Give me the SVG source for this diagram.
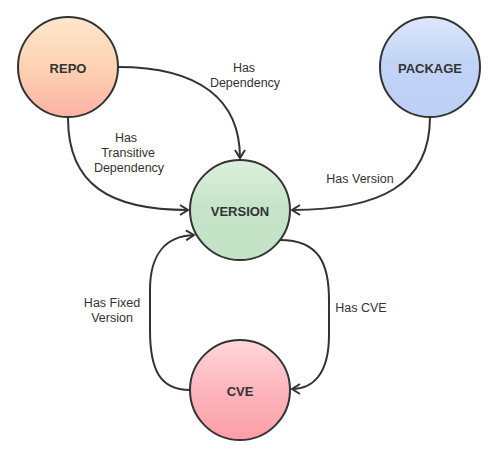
<svg xmlns="http://www.w3.org/2000/svg" width="500" height="460" viewBox="0 0 500 460">
<style>
.node{stroke:#333;stroke-width:2}
.nl{font-family:"Liberation Sans",Arial,sans-serif;font-weight:bold;font-size:13px;fill:#333;text-anchor:middle}
.el{font-family:"Liberation Sans",Arial,sans-serif;font-size:12.5px;fill:#333;text-anchor:middle}
.edge{fill:none;stroke:#333;stroke-width:2;marker-end:url(#arr)}
</style>
<defs>
<marker id="arr" markerWidth="12" markerHeight="12" refX="10" refY="6" orient="auto" markerUnits="userSpaceOnUse">
<path d="M2,1 L10,6 L2,11" fill="none" stroke="#333" stroke-width="2" stroke-linejoin="miter"/>
</marker>
<linearGradient id="gRepo" x1="0" y1="0" x2="0" y2="1"><stop offset="0" stop-color="#ffe6cc"/><stop offset="0.5" stop-color="#fdd3b3"/><stop offset="1" stop-color="#fcb2a4"/></linearGradient>
<linearGradient id="gPkg" x1="0" y1="0" x2="0" y2="1"><stop offset="0" stop-color="#dde7fb"/><stop offset="0.45" stop-color="#c2d4f6"/><stop offset="1" stop-color="#bcd0f5"/></linearGradient>
<linearGradient id="gVer" x1="0" y1="0" x2="0" y2="1"><stop offset="0" stop-color="#dcefdd"/><stop offset="0.45" stop-color="#c6e5c8"/><stop offset="1" stop-color="#c4e3c6"/></linearGradient>
<linearGradient id="gCve" x1="0" y1="0" x2="0" y2="1"><stop offset="0" stop-color="#ffd6da"/><stop offset="0.5" stop-color="#fdb6bd"/><stop offset="1" stop-color="#fc9ea8"/></linearGradient>
</defs>
<rect width="500" height="460" fill="#fff"/>
<g id="connectors">
<path class="edge" d="M118,67 C200,67 240,100 240,158"/>
<path class="edge" d="M68,118 C68,185 110,210 188,210"/>
<path class="edge" d="M430,117 C430,185 380,210 292,210"/>
<path class="edge" d="M280,240 C320,240 329,265 329,300 L329,335 C329,375 312,389 292,389"/>
<path class="edge" d="M190,390 C160,390 150,370 150,330 L150,290 C150,255 165,236 194,235"/>
<text class="el" x="244" y="72">Has</text>
<text class="el" x="245" y="87">Dependency</text>
<text class="el" x="126" y="142">Has</text>
<text class="el" x="128" y="157">Transitive</text>
<text class="el" x="129" y="172">Dependency</text>
<text class="el" x="360" y="183">Has Version</text>
<text class="el" x="361" y="312">Has CVE</text>
<text class="el" x="112" y="307">Has Fixed</text>
<text class="el" x="112" y="322">Version</text>
</g>
<g id="repo"><circle class="node" cx="68" cy="67" r="50" fill="url(#gRepo)"/><text class="nl" x="68" y="73">REPO</text></g>
<g id="package"><circle class="node" cx="430" cy="67" r="50" fill="url(#gPkg)"/><text class="nl" x="430" y="73">PACKAGE</text></g>
<g id="version"><circle class="node" cx="240" cy="210" r="50" fill="url(#gVer)"/><text class="nl" x="240" y="216">VERSION</text></g>
<g id="cve"><circle class="node" cx="240" cy="390" r="50" fill="url(#gCve)"/><text class="nl" x="240" y="396">CVE</text></g>
</svg>
